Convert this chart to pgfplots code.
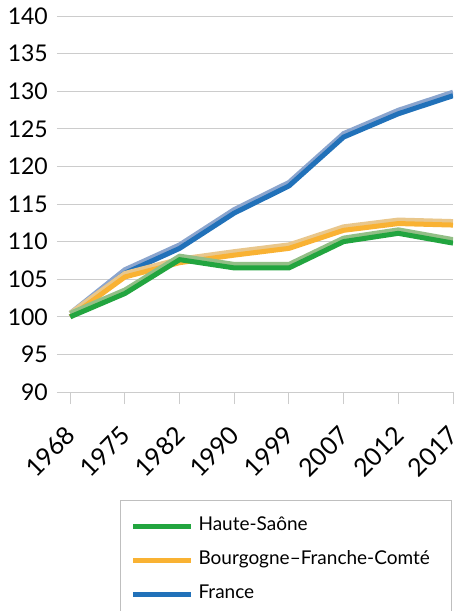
\documentclass[border=0pt]{standalone}
\usepackage{fontspec}
\setmainfont{Lato}
\usepackage{pgfplots}
\pgfplotsset{compat=1.18}
\definecolor{greenM}{HTML}{22A53F}
\definecolor{greenL}{HTML}{93BF87}
\definecolor{orangeM}{HTML}{F9B233}
\definecolor{orangeL}{HTML}{E9C78C}
\definecolor{blueM}{HTML}{2171B9}
\definecolor{blueL}{HTML}{8BA5CE}
\begin{document}
\begin{tikzpicture}
\begin{axis}[
 scale only axis, width=396pt, height=376pt,
 xmin=-0.243, xmax=7, ymin=90, ymax=140,
 xtick={0,...,7}, xticklabels={1968,1975,1982,1990,1999,2007,2012,2017},
 ytick={90,95,...,140},
 ymajorgrids, grid style={draw=black!20, line width=1pt},
 axis line style={draw=none},
 tick pos=lower, tick align=outside,
 ytick style={draw=none},
 xtick style={draw=black!20, line width=1pt},
 major tick length=12pt,
 ticklabel style={font=\fontsize{23}{23}\selectfont},
 /pgf/number format/assume math mode=true,
 yticklabel style={anchor=east, inner sep=0pt, xshift=3pt},
 xticklabel style={rotate=45, anchor=north east, inner sep=0pt, xshift=-18.5pt, yshift=-10.2pt, font=\fontsize{25}{25}\selectfont},
 reverse legend,
 legend style={at={(0.159,-0.287)}, anchor=north west, draw=black!25, line width=1.2pt,
   font=\fontsize{19}{19}\selectfont, inner xsep=10pt, inner ysep=15pt,
   row sep=13pt, column sep=3pt,
   nodes={inner sep=2pt, text height=13pt, text depth=4pt}},
 legend cell align=left,
 legend image code/.code={\draw[line width=5pt] (0pt,0pt) -- (58pt,0pt);},
]
\coordinate (SW) at (rel axis cs:0,0);
\addplot[forget plot, color=blueL, line width=5pt, yshift=3.5pt] coordinates {(0,100) (1,105.8) (2,109.1) (3,113.8) (4,117.4) (5,123.9) (6,127.0) (7,129.4)};
\addplot[color=blueM, line width=5pt] coordinates {(0,100) (1,105.8) (2,109.1) (3,113.8) (4,117.4) (5,123.9) (6,127.0) (7,129.4)};
\addlegendentry{\makebox[241pt][l]{France}}
\addplot[forget plot, color=orangeL, line width=5pt, yshift=3.5pt] coordinates {(0,100) (1,105.3) (2,107.2) (3,108.2) (4,109.1) (5,111.5) (6,112.4) (7,112.2)};
\addplot[color=orangeM, line width=5pt] coordinates {(0,100) (1,105.3) (2,107.2) (3,108.2) (4,109.1) (5,111.5) (6,112.4) (7,112.2)};
\addlegendentry{\makebox[241pt][l]{Bourgogne–Franche-Comté}}
\addplot[forget plot, color=greenL, line width=5pt, yshift=3.5pt] coordinates {(0,100) (1,103.1) (2,107.6) (3,106.5) (4,106.5) (5,110.0) (6,111.1) (7,109.8)};
\addplot[color=greenM, line width=5pt] coordinates {(0,100) (1,103.1) (2,107.6) (3,106.5) (4,106.5) (5,110.0) (6,111.1) (7,109.8)};
\addlegendentry{\makebox[241pt][l]{Haute-Saône}}
\end{axis}
\pgfresetboundingbox
\path[use as bounding box] ([xshift=-57pt,yshift=392pt]SW) rectangle ([xshift=399pt,yshift=-219pt]SW);
\end{tikzpicture}
\end{document}
